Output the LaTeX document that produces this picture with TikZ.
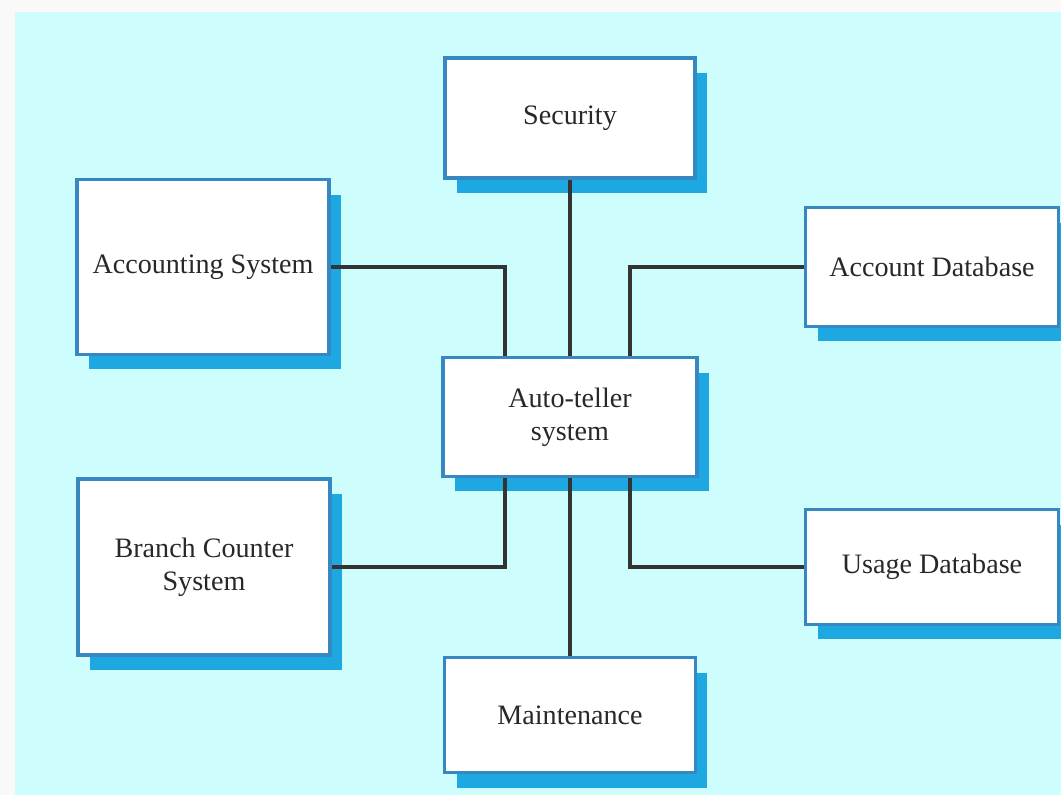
\documentclass[tikz,border=0pt]{standalone}
\usepackage{fontspec}
\setmainfont{Liberation Serif}
\usepackage{tikz}
\usetikzlibrary{positioning,shapes,shadows}
\definecolor{bgcyan}{RGB}{205,253,253}
\definecolor{edgeblue}{RGB}{55,135,195}
\definecolor{shadeblue}{RGB}{30,168,225}
\definecolor{textgrey}{RGB}{40,40,40}

\begin{document}
\begin{tikzpicture}[x=0.02cm,y=-0.02cm,
    sysbox/.style={draw=edgeblue,line width=2pt,fill=white,align=center,
        text=textgrey,font=\fontsize{16}{19}\selectfont,
        drop shadow={shadow xshift=0.24cm,shadow yshift=-0.3cm,fill=shadeblue,opacity=1}},
    link/.style={line width=2.2pt,black!80}]
        \useasboundingbox (0,0) rectangle (1061,795);
        \fill[gray!5] (0,0) rectangle (1061,795);
        \fill[bgcyan] (15,12) rectangle (1061,795);
        % boxes
        \node[sysbox,minimum width=5cm,minimum height=2.4cm] (sec) at (570,118) {Security};
        \node[sysbox,minimum width=5.04cm,minimum height=3.5cm] (acc) at (203,267) {Accounting System};
        \node[sysbox,minimum width=5.06cm,minimum height=2.38cm] (adb) at (932,267) {Account Database};
        \node[sysbox,minimum width=5.08cm,minimum height=2.38cm] (atm) at (570,417) {Auto-teller\\system};
        \node[sysbox,minimum width=5.04cm,minimum height=3.52cm] (bcs) at (204,567) {Branch Counter\\System};
        \node[sysbox,minimum width=5.06cm,minimum height=2.3cm] (udb) at (932,567) {Usage Database};
        \node[sysbox,minimum width=5.02cm,minimum height=2.3cm] (mnt) at (570,715) {Maintenance};
        % connectors
        \draw[link] (sec.south) -- (atm.north);
        \draw[link] (acc.east) -| ([xshift=-1.3cm]atm.north);
        \draw[link] (adb.west) -| ([xshift=1.2cm]atm.north);
        \draw[link] (bcs.east) -| ([xshift=-1.3cm]atm.south);
        \draw[link] (udb.west) -| ([xshift=1.2cm]atm.south);
        \draw[link] (atm.south) -- (mnt.north);
    \end{tikzpicture}
\end{document}
